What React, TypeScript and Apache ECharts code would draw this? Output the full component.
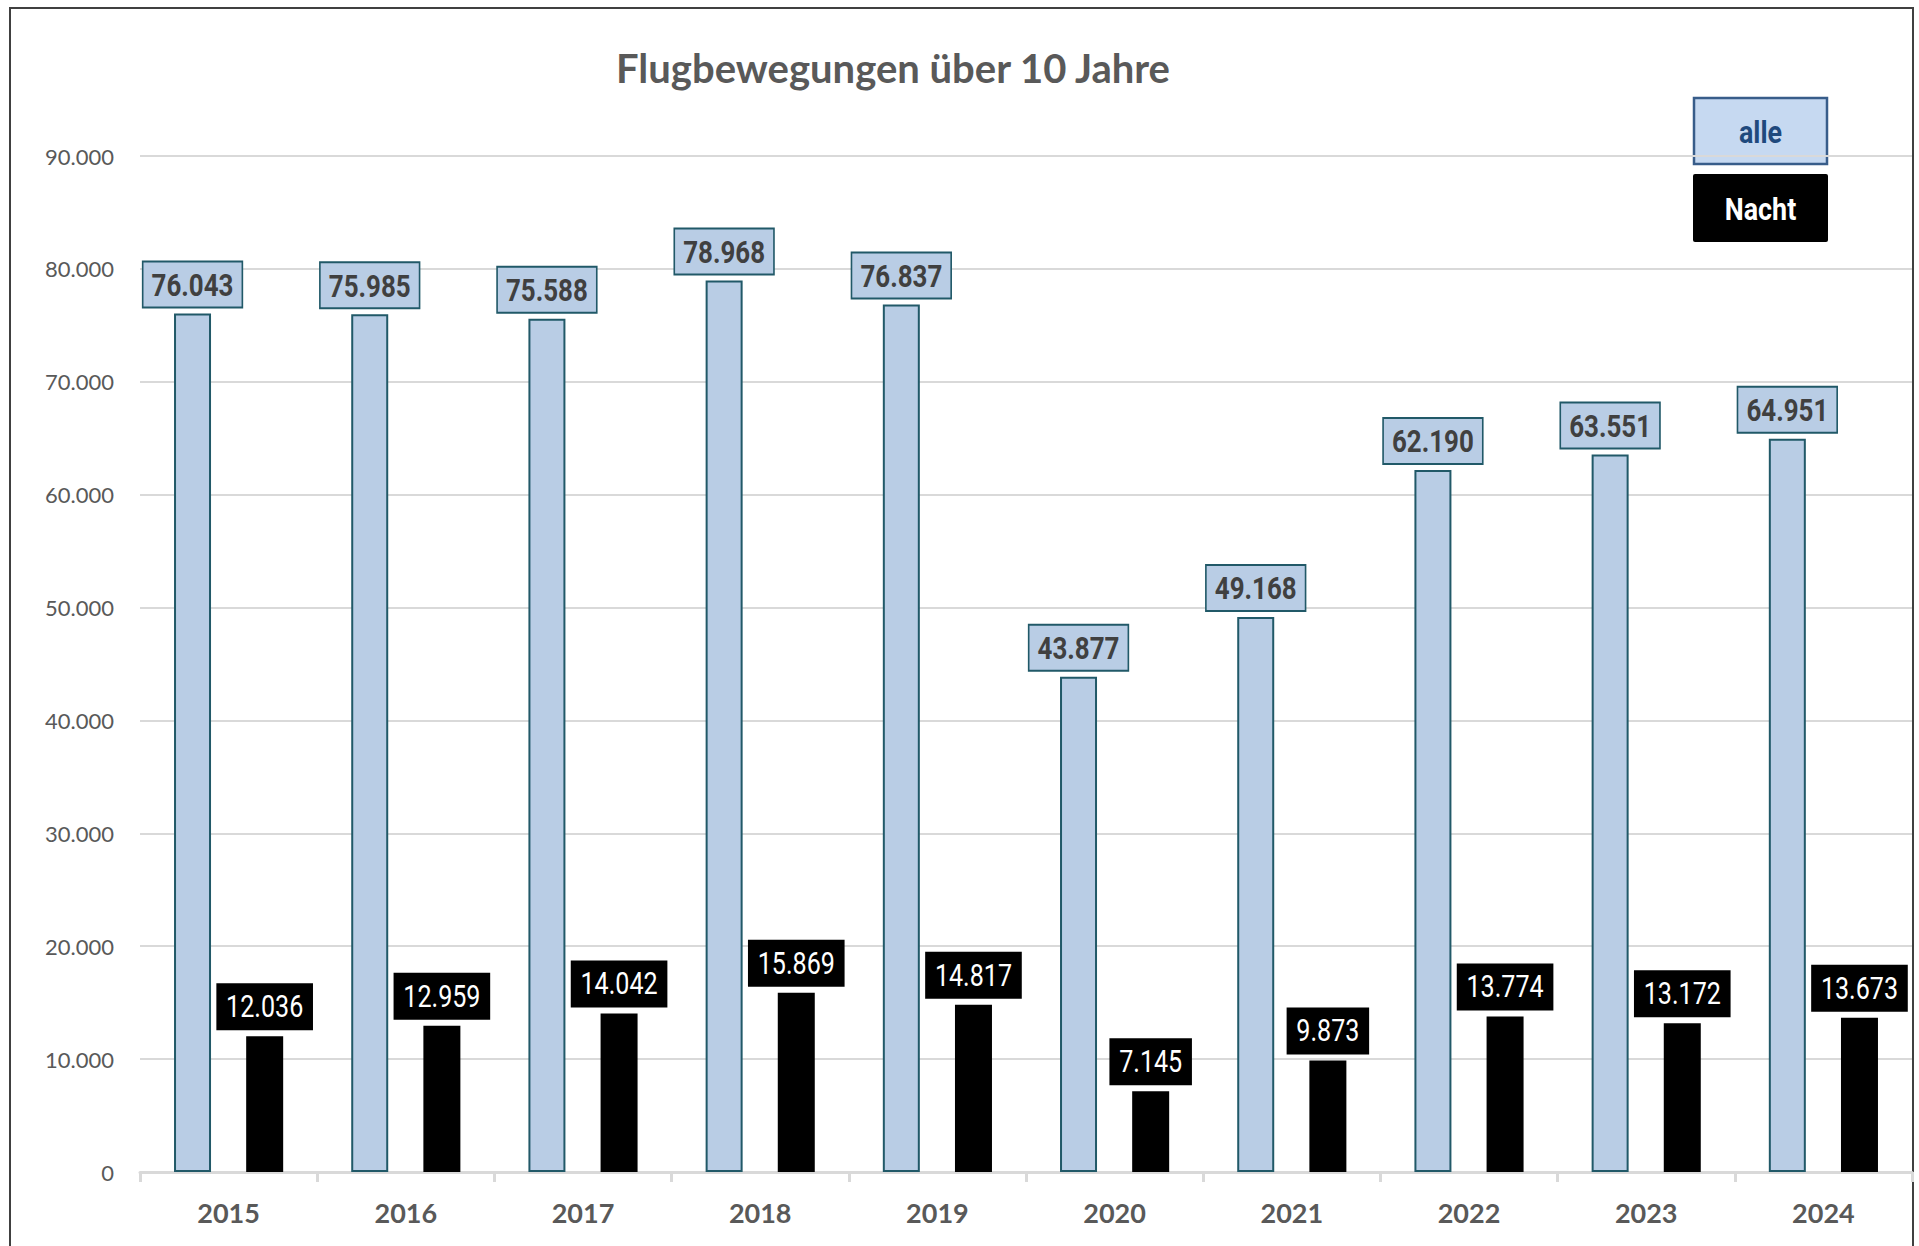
import React, { useEffect, useRef } from "react";
import * as echarts from "echarts";

const years = ["2015", "2016", "2017", "2018", "2019", "2020", "2021", "2022", "2023", "2024"];
const alle = [76043, 75985, 75588, 78968, 76837, 43877, 49168, 62190, 63551, 64951];
const nacht = [12036, 12959, 14042, 15869, 14817, 7145, 9873, 13774, 13172, 13673];
const yTicks = { min: 0, max: 90000, interval: 10000 };
const titleText = "Flugbewegungen über 10 Jahre";

const fmt = (v: number) => {
  if (v === 0) return "0";
  const s = String(Math.round(v));
  return s.replace(/\B(?=(\d{3})+(?!\d))/g, ".");
};

const BAR_W = 37;
const BAR_GAP = 0.95;
const BAR_OFFSET = (BAR_W + BAR_W * BAR_GAP) / 2;
const NARROW_SCALE = 0.81;

function labelSeries(
  name: string,
  values: number[],
  dx: number,
  distance: number,
  style: Record<string, any>
) {
  return {
    type: "custom",
    name,
    data: values.map((v, i) => [i, v]),
    encode: { x: 0, y: 1 },
    z: 5,
    silent: true,
    renderItem: (_params: any, api: any) => {
      const i = api.value(0);
      const v = api.value(1);
      const p = api.coord([i, v]);
      return {
        type: "text",
        x: p[0] + dx,
        y: p[1] - distance,
        scaleX: NARROW_SCALE,
        style: {
          text: fmt(v),
          x: 0,
          y: 0,
          textAlign: "center",
          textVerticalAlign: "bottom",
          ...style,
        },
      };
    },
  };
}

export default function App() {
  const ref = useRef<HTMLDivElement>(null);
  useEffect(() => {
    if (!ref.current) return;
    const chart = echarts.init(ref.current, undefined, { renderer: "svg" });
    chart.setOption({
      animation: false,
      backgroundColor: "#ffffff",
      title: {
        text: titleText,
        left: 888,
        top: 43,
        textAlign: "center",
        textStyle: { fontFamily: "Lato", fontWeight: "bold", fontSize: 40, color: "#595959" },
      },
      grid: { left: 140, right: 7, top: 156, bottom: 74, containLabel: false },
      xAxis: {
        type: "category",
        data: years,
        boundaryGap: true,
        axisLine: { lineStyle: { color: "#d9d9d9", width: 3 } },
        axisTick: { show: true, length: 10, lineStyle: { color: "#d9d9d9", width: 3 } },
        axisLabel: { fontFamily: "Lato", fontWeight: "bold", fontSize: 27, color: "#595959", margin: 27 },
      },
      yAxis: {
        type: "value",
        min: yTicks.min,
        max: yTicks.max,
        interval: yTicks.interval,
        axisLine: { show: false },
        axisTick: { show: false },
        splitLine: { lineStyle: { color: "#d9d9d9", width: 2 } },
        axisLabel: { fontFamily: "Lato", fontSize: 22, color: "#595959", margin: 26, formatter: (v: number) => fmt(v) },
      },
      series: [
        {
          name: "alle",
          type: "bar",
          data: alle,
          barWidth: BAR_W,
          barGap: `${BAR_GAP * 100}%`,
          itemStyle: { color: "#b9cde5", borderColor: "#215968", borderWidth: 2 },
        },
        {
          name: "Nacht",
          type: "bar",
          data: nacht,
          barWidth: BAR_W,
          itemStyle: { color: "#000000" },
        },
        labelSeries("alle-label", alle, -BAR_OFFSET, 7, {
          font: "bold 32px Roboto",
          fill: "#404040",
          lineHeight: 35,
          backgroundColor: "#b9cde5",
          borderColor: "#215968",
          borderWidth: 2,
          padding: [5, 10, 4, 10],
        }),
        labelSeries("nacht-label", nacht, BAR_OFFSET, 6, {
          font: "31px Roboto",
          fill: "#ffffff",
          lineHeight: 37,
          backgroundColor: "#000000",
          padding: [5, 12, 5, 12],
        }),
      ],
      graphic: [
        {
          type: "rect",
          shape: { x: 10, y: 8, width: 1903, height: 1300 },
          style: { fill: "none", stroke: "#404040", lineWidth: 2 },
          silent: true,
        },
        {
          type: "group",
          children: [
            {
              type: "rect",
              shape: { x: 1694, y: 98, width: 133, height: 66 },
              style: { fill: "#c6d9f1", stroke: "#385d8a", lineWidth: 2.5 },
            },
            {
              type: "text",
              x: 1760.5,
              y: 132,
              scaleX: 0.84,
              style: {
                text: "alle",
                fill: "#1f497d",
                font: "bold 32px Roboto",
                textAlign: "center",
                textVerticalAlign: "middle",
              },
            },
            {
              type: "rect",
              shape: { x: 1693, y: 174, width: 135, height: 68, r: 2 },
              style: { fill: "#000000" },
            },
            {
              type: "text",
              x: 1760.5,
              y: 209,
              scaleX: 0.84,
              style: {
                text: "Nacht",
                fill: "#ffffff",
                font: "bold 32px Roboto",
                textAlign: "center",
                textVerticalAlign: "middle",
              },
            },
          ],
        },
      ],
    });
    return () => chart.dispose();
  }, []);
  return (
    <div
      ref={ref}
      style={{ position: "fixed", left: 0, top: 0, width: 1919, height: 1246 }}
    />
  );
}
